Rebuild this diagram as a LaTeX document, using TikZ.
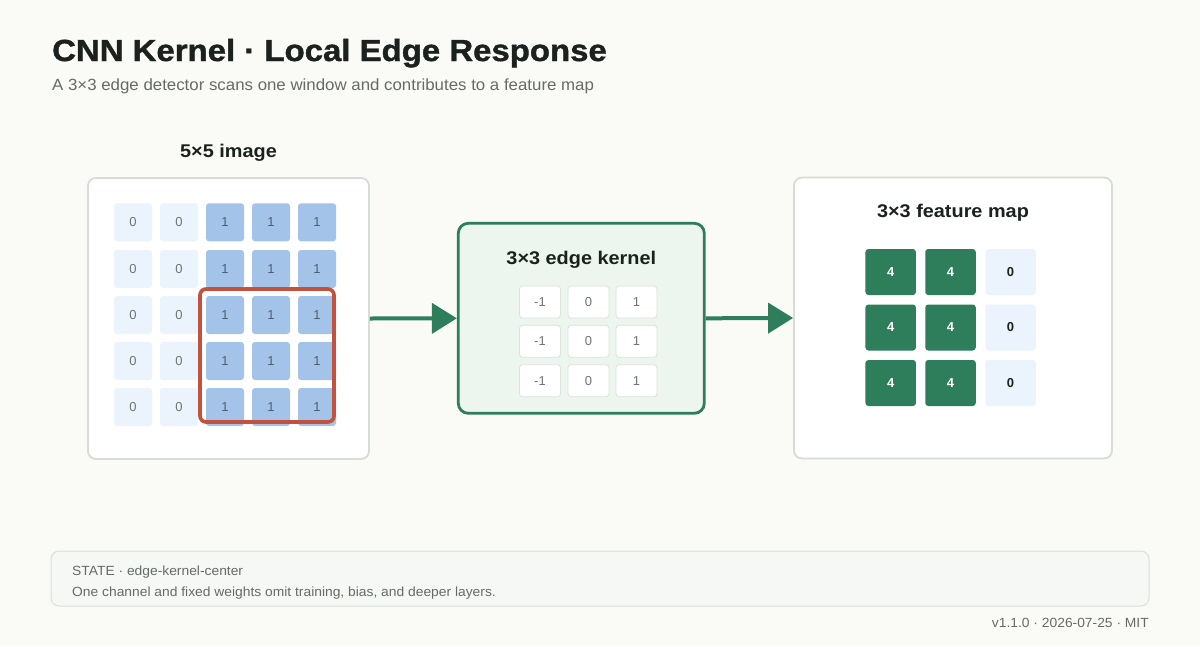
\documentclass[tikz,border=0pt]{standalone}
\usepackage{fontspec}
\setmainfont{Liberation Sans}
\newfontfamily\titlefont{Liberation Sans}[UprightFont=* Bold, FakeBold=1.2, FakeStretch=1.08]
\newfontfamily\headfont{Liberation Sans}[UprightFont=* Bold, FakeStretch=1.08]
\newfontfamily\bodyfont{Liberation Sans}[FakeStretch=1.04]
\usetikzlibrary{arrows.meta}
\definecolor{bgc}{HTML}{FAFBF6}
\definecolor{ink}{HTML}{1B211E}
\definecolor{subc}{HTML}{666B68}
\definecolor{panelb}{HTML}{D6DCD6}
\definecolor{lightc}{HTML}{EBF3FC}
\definecolor{bluec}{HTML}{A3C4E8}
\definecolor{greenc}{HTML}{2E7D5B}
\definecolor{kfill}{HTML}{EDF5EF}
\definecolor{kcellb}{HTML}{DCE2DC}
\definecolor{redc}{HTML}{C4513D}
\definecolor{footf}{HTML}{F6F8F6}
\definecolor{footb}{HTML}{DADFDA}
\definecolor{cellt}{HTML}{6E7573}
\definecolor{onet}{HTML}{4F5E6C}
\tikzset{
  panel/.style={draw=panelb,line width=1.8pt,fill=white,rounded corners=8pt,inner sep=0pt},
  imgzero/.style={fill=lightc,rounded corners=3pt,minimum width=38pt,minimum height=38pt,inner sep=0pt,font=\fontsize{13}{13}\selectfont,text=cellt},
  imgone/.style={imgzero,fill=bluec,text=onet},
  kcell/.style={draw=kcellb,line width=0.8pt,fill=white,rounded corners=3pt,minimum width=41pt,minimum height=32pt,inner sep=0pt,font=\fontsize{13}{13}\selectfont,text=cellt},
  fgreen/.style={fill=greenc,rounded corners=3pt,minimum width=50.5pt,minimum height=46pt,inner sep=0pt,font=\bfseries\fontsize{13}{13}\selectfont,text=white},
  flight/.style={fgreen,fill=lightc,text=ink},
  ptitle/.style={font=\headfont\fontsize{18.4}{18.4}\selectfont,text=ink,anchor=base,inner sep=0pt},
  foottext/.style={inner sep=0pt,font=\bodyfont\fontsize{13.3}{13.3}\selectfont,text=subc},
  flow/.style={draw=greenc,line width=4pt,-{Triangle[length=25pt,width=30pt]}},
}
\begin{document}
\begin{tikzpicture}[x=1pt,y=-1pt]
\useasboundingbox (0,0) rectangle (1200,646);
\fill[bgc] (0,0) rectangle (1200,646);
% titles
\node[anchor=base west,inner sep=0pt,font=\titlefont\fontsize{30.5}{30.5}\selectfont,text=ink] (title) at (52,61) {CNN Kernel · Local Edge Response};
\node[anchor=base west,inner sep=0pt,font=\bodyfont\fontsize{16.2}{16.2}\selectfont,text=subc] (subtitle) at (52,90) {A 3×3 edge detector scans one window and contributes to a feature map};
% image panel
\node[ptitle] (imgtitle) at (228.5,157) {5×5 image};
\node[panel,minimum width=281pt,minimum height=281pt] (imgpanel) at (228.5,318.5) {};
\foreach \r/\y in {1/222.3,2/269,3/315,4/361,5/407}{
  \node[imgzero] (i\r1) at (133,\y) {0};
  \node[imgzero] (i\r2) at (179,\y) {0};
  \node[imgone] (i\r3) at (225,\y) {1};
  \node[imgone] (i\r4) at (271,\y) {1};
  \node[imgone] (i\r5) at (317,\y) {1};
}
\node[draw=redc,line width=3.6pt,rounded corners=6pt,minimum width=134pt,minimum height=133pt,inner sep=0pt] (window) at (267,355.5) {};
% kernel panel
\node[draw=greenc,line width=2.8pt,fill=kfill,rounded corners=10pt,minimum width=246pt,minimum height=190pt,inner sep=0pt] (kernel) at (581.3,318.3) {};
\node[ptitle] (ktitle) at (581.3,264) {3×3 edge kernel};
\foreach \r/\y in {1/302,2/341.3,3/380.7}{
  \node[kcell] (k\r1) at (540,\y) {-1};
  \node[kcell] (k\r2) at (588.5,\y) {0};
  \node[kcell] (k\r3) at (636.5,\y) {1};
}
% feature panel
\node[panel,minimum width=318pt,minimum height=281pt] (featpanel) at (953,318) {};
\node[ptitle] (ftitle) at (953,217) {3×3 feature map};
\foreach \r/\y in {1/272,2/327.5,3/383}{
  \node[fgreen] (f\r1) at (890.7,\y) {4};
  \node[fgreen] (f\r2) at (950.5,\y) {4};
  \node[flight] (f\r3) at (1010.5,\y) {0};
}
% arrows
\draw[flow] (imgpanel.east) -- (kernel.west);
\draw[flow] (kernel.east) -- (featpanel.west);
% footer
\node[draw=footb,line width=1pt,fill=footf,rounded corners=8pt,minimum width=1098pt,minimum height=55pt,inner sep=0pt] (footer) at (600,578.5) {};
\node[foottext,anchor=base west] (state) at (72,575.5) {STATE · edge-kernel-center};
\node[foottext,anchor=base west] (note) at (72,596.5) {One channel and fixed weights omit training, bias, and deeper layers.};
\node[foottext,anchor=base east] (version) at (1149,627.5) {v1.1.0 · 2026-07-25 · MIT};
\end{tikzpicture}
\end{document}
